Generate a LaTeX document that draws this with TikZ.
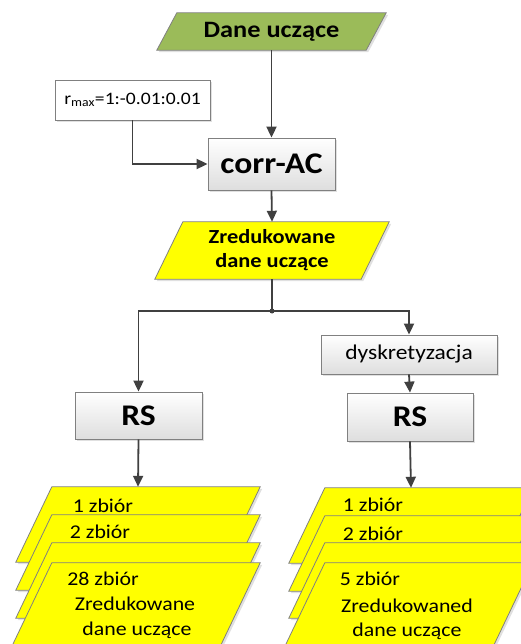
\documentclass[tikz,border=0pt]{standalone}
\usepackage{fontspec}
\setmainfont{Carlito}[FakeStretch=1.12]
\usetikzlibrary{arrows.meta,backgrounds,shadows}
\definecolor{ink}{RGB}{64,64,64}
\definecolor{frame}{RGB}{128,128,128}
\definecolor{leaf}{RGB}{155,187,89}
\definecolor{lemon}{RGB}{255,255,0}

\begin{document}
\begin{tikzpicture}[x=1pt,y=-1pt,
    softshadow/.style={drop shadow={shadow xshift=2pt,shadow yshift=-2pt,fill=black!30,opacity=0.4}},
    notebox/.style={draw=frame,line width=0.8pt,fill=white,softshadow,inner sep=0pt,align=center},
    procbox/.style={notebox,top color=white,bottom color=black!13},
    plate/.style 2 args={inner sep=0pt,align=center,
      append after command={\pgfextra{\begin{pgfonlayer}{background}
        \filldraw[draw=frame,line width=0.8pt,fill=#1,softshadow]
          ([xshift=#2]\tikzlastnode.north west) -- (\tikzlastnode.north east)
          -- ([xshift=-#2]\tikzlastnode.south east) -- (\tikzlastnode.south west) -- cycle;
        \end{pgfonlayer}}}},
    arrow/.style={-{Triangle[length=11pt,width=10pt]},line width=1.8pt,draw=ink},
    link/.style={line width=1.8pt,draw=ink},
    bigbold/.style={font=\fontsize{30}{32}\selectfont\bfseries},
    midbold/.style={font=\fontsize{20}{24}\selectfont\bfseries},
    stacktext/.style={font=\fontsize{19.5}{22}\selectfont,anchor=base,inner sep=0pt}
  ]
    \path[use as bounding box] (0,0) rectangle (520,644);
    \clip (0,0) rectangle (520,644);

    % upper part
    \node[plate={leaf}{20pt},minimum width=229pt,minimum height=37pt,
      font=\fontsize{23.5}{26}\selectfont\bfseries] (dane) at (271.5,31.5) {Dane uczące};
    \node[notebox,minimum width=155pt,minimum height=40pt,font=\fontsize{17.5}{20}\selectfont]
      (rmax) at (132.5,100) {r\textsubscript{max}=1:-0.01:0.01};
    \node[procbox,minimum width=127pt,minimum height=52pt,bigbold] (corr) at (271.5,164) {corr-AC};
    \node[plate={lemon}{28pt},minimum width=234pt,minimum height=57pt,midbold] (zred) at (272,250.5)
      {Zredukowane\\dane uczące};
    \coordinate (junc) at (272,311);

    % branches
    \node[procbox,minimum width=176pt,minimum height=39pt,font=\fontsize{21}{24}\selectfont]
      (dysk) at (409,354.5) {dyskretyzacja};
    \node[procbox,minimum width=127pt,minimum height=47pt,bigbold] (rsL) at (138.5,415.5) {RS};
    \node[procbox,minimum width=126pt,minimum height=48pt,bigbold] (rsR) at (410,417) {RS};

    % left stack
    \node[plate={lemon}{36pt},minimum width=244pt,minimum height=75pt] (l1) at (138,524.5) {};
    \node[plate={lemon}{36pt},minimum width=244pt,minimum height=75pt] (l2) at (138,552.5) {};
    \node[plate={lemon}{36pt},minimum width=244pt,minimum height=75pt] (l3) at (138,580.5) {};
    \node[plate={lemon}{48pt},minimum width=256pt,minimum height=100pt] (l4) at (132,613) {};
    \node[stacktext] (l1t) at (103,512) {1 zbiór};
    \node[stacktext] (l2t) at (100,538) {2 zbiór};
    \node[stacktext] (l4t) at (103,585) {28 zbiór};
    \node[stacktext] (l4u) at (135,610) {Zredukowane};
    \node[stacktext] (l4v) at (137,635) {dane uczące};

    % right stack
    \node[plate={lemon}{36pt},minimum width=244pt,minimum height=75pt] (r1) at (411,525.5) {};
    \node[plate={lemon}{36pt},minimum width=244pt,minimum height=75pt] (r2) at (411,553.5) {};
    \node[plate={lemon}{36pt},minimum width=244pt,minimum height=75pt] (r3) at (411,580.5) {};
    \node[plate={lemon}{48pt},minimum width=256pt,minimum height=100pt] (r4) at (405,613) {};
    \node[stacktext] (r1t) at (373,511) {1 zbiór};
    \node[stacktext] (r2t) at (373,540) {2 zbiór};
    \node[stacktext] (r4t) at (370,585) {5 zbiór};
    \node[stacktext] (r4u) at (407,612) {Zredukowaned};
    \node[stacktext] (r4v) at (407,636) {dane uczące};

    % connectors
    \draw[arrow] (dane.south) -- (corr.north);
    \draw[arrow] (rmax.south) |- (corr.west);
    \draw[arrow] (corr.south) -- (zred.north);
    \draw[link] (zred.south) -- (junc);
    \fill[ink] (junc) circle (2.5);
    \draw[arrow] (junc) -| (rsL.north);
    \draw[arrow] (junc) -| (dysk.north);
    \draw[arrow] (dysk.south) -- (rsR.north);
    \draw[arrow] (rsL.south) -- (l1.north);
    \draw[arrow] (rsR.south) -- (r1.north);
  \end{tikzpicture}
\end{document}
